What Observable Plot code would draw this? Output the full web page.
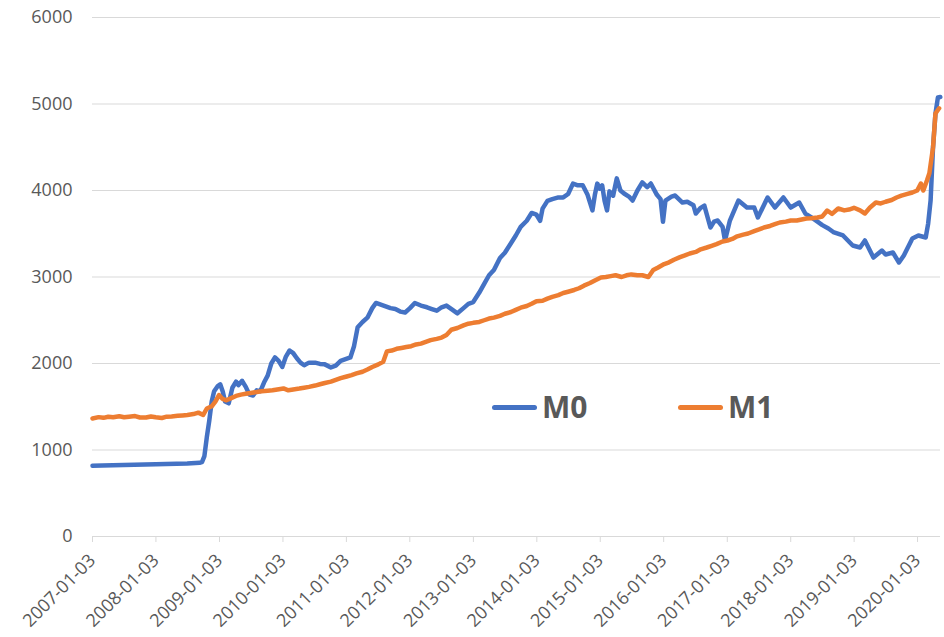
<!DOCTYPE html>
<html>
<head>
<meta charset="utf-8">
<script src="https://cdn.jsdelivr.net/npm/d3@7"></script>
<script src="https://cdn.jsdelivr.net/npm/@observablehq/plot@0.6"></script>
<style>
  html, body { margin: 0; padding: 0; background: #fff; }
  #wrap { position: relative; width: 944px; height: 637px; font-family: "Open Sans", sans-serif; }
  .legend { position: absolute; top: 386px; display: flex; align-items: center; color: #595959; font-weight: 700; font-size: 30px; line-height: 42px; }
  .legend .sw { width: 45px; height: 5px; border-radius: 3px; margin-right: 5px; }
</style>
</head>
<body>
<div id="wrap"></div>
<script>
// ---- Data ----
const seriesNames = ["M0", "M1"];
const seriesColors = ["#4472C4", "#ED7D31"];

const m0Dates = [
"2007-01-03","2007-03-01","2007-05-01","2007-07-01","2007-09-01","2007-11-01",
"2008-01-03","2008-03-01","2008-05-01","2008-07-01","2008-09-10","2008-09-24",
"2008-10-08","2008-10-22","2008-11-05","2008-11-19","2008-12-03","2008-12-24",
"2009-01-07","2009-01-21","2009-02-04","2009-02-25","2009-03-18","2009-04-08",
"2009-04-22","2009-05-13","2009-06-03","2009-06-24","2009-07-15","2009-08-05",
"2009-08-26","2009-09-16","2009-10-07","2009-10-28","2009-11-18","2009-12-09",
"2009-12-30","2010-01-20","2010-02-10","2010-03-03","2010-03-24","2010-04-14",
"2010-05-05","2010-06-02","2010-07-07","2010-08-04","2010-09-01","2010-10-06",
"2010-11-03","2010-12-01","2010-12-29","2011-01-26","2011-02-16","2011-03-09",
"2011-04-06","2011-05-04","2011-06-01","2011-06-22","2011-07-20","2011-08-17",
"2011-09-14","2011-10-12","2011-11-09","2011-12-07","2012-01-04","2012-02-01",
"2012-03-07","2012-04-11","2012-05-09","2012-06-06","2012-07-04","2012-08-01",
"2012-09-05","2012-10-03","2012-11-07","2012-12-05","2013-01-02","2013-02-06",
"2013-03-06","2013-04-03","2013-05-01","2013-06-05","2013-07-03","2013-08-07",
"2013-09-04","2013-10-02","2013-11-06","2013-12-04","2014-01-01","2014-01-22",
"2014-02-05","2014-03-05","2014-04-02","2014-05-07","2014-06-04","2014-07-02",
"2014-07-30","2014-08-27","2014-09-24","2014-10-22","2014-11-19","2014-12-03",
"2014-12-17","2014-12-31","2015-01-14","2015-01-28","2015-02-11","2015-02-25",
"2015-03-18","2015-04-08","2015-04-29","2015-05-20","2015-06-17","2015-07-08",
"2015-08-05","2015-09-02","2015-09-30","2015-10-21","2015-11-25","2015-12-16",
"2015-12-30","2016-01-13","2016-02-17","2016-03-09","2016-04-20","2016-05-18",
"2016-06-22","2016-07-06","2016-08-03","2016-08-24","2016-09-28","2016-10-19",
"2016-11-09","2016-12-07","2016-12-21","2017-01-18","2017-03-08","2017-04-26",
"2017-06-07","2017-06-28","2017-08-23","2017-10-04","2017-11-22","2018-01-03",
"2018-02-21","2018-03-28","2018-05-02","2018-06-06","2018-07-04","2018-08-08",
"2018-09-05","2018-10-31","2018-12-26","2019-02-06","2019-03-06","2019-04-24",
"2019-06-12","2019-07-03","2019-08-14","2019-09-18","2019-10-16","2019-12-04",
"2020-01-08","2020-02-19","2020-03-04","2020-03-18","2020-04-01","2020-04-15",
"2020-04-29","2020-05-13"
];
const m0Values = [
818,822,825,828,830,832,
836,838,842,843,852,860,
930,1150,1340,1560,1680,1740,
1760,1680,1560,1540,1720,1790,
1750,1800,1730,1640,1630,1690,
1680,1780,1860,2000,2070,2030,
1960,2080,2150,2120,2060,2010,
1980,2010,2010,1995,1990,1955,
1975,2030,2050,2070,2200,2420,
2480,2530,2640,2700,2680,2660,
2640,2630,2600,2590,2640,2700,
2670,2650,2630,2610,2650,2670,
2620,2580,2640,2690,2710,2820,
2920,3020,3080,3220,3280,3390,
3480,3580,3650,3740,3720,3650,
3790,3880,3900,3920,3920,3960,
4080,4060,4060,3950,3770,3950,
4080,4020,4060,3880,3770,3990,
3940,4140,4000,3965,3930,3884,
4000,4093,4040,4081,3950,3900,
3640,3884,3930,3942,3861,3870,
3830,3734,3800,3826,3572,3640,
3653,3580,3422,3653,3884,3803,
3803,3688,3919,3803,3919,3803,
3861,3734,3688,3640,3600,3561,
3520,3480,3364,3341,3422,3225,
3306,3260,3283,3168,3249,3445,
3480,3457,3618,3884,4497,4890,
5075,5080
];

const m1Dates = [
"2007-01-03","2007-02-07","2007-03-07","2007-04-04","2007-05-02","2007-06-06",
"2007-07-04","2007-08-01","2007-09-05","2007-10-03","2007-11-07","2007-12-05",
"2008-01-02","2008-02-06","2008-03-05","2008-04-02","2008-05-07","2008-06-04",
"2008-07-02","2008-08-06","2008-09-03","2008-10-01","2008-10-22","2008-11-19",
"2008-12-10","2008-12-31","2009-01-21","2009-02-11","2009-03-11","2009-04-08",
"2009-05-06","2009-06-03","2009-07-01","2009-08-05","2009-09-02","2009-10-07",
"2009-11-04","2009-12-02","2010-01-06","2010-02-03","2010-03-03","2010-04-07",
"2010-05-05","2010-06-02","2010-07-07","2010-08-04","2010-09-01","2010-10-06",
"2010-11-03","2010-12-01","2011-01-05","2011-02-02","2011-03-02","2011-04-06",
"2011-05-04","2011-06-01","2011-07-06","2011-08-03","2011-08-24","2011-09-21",
"2011-10-19","2011-11-16","2011-12-14","2012-01-11","2012-02-08","2012-03-07",
"2012-04-04","2012-05-02","2012-06-06","2012-07-04","2012-08-01","2012-08-29",
"2012-10-03","2012-11-07","2012-12-05","2013-01-02","2013-02-06","2013-03-06",
"2013-04-03","2013-05-01","2013-06-05","2013-07-03","2013-08-07","2013-09-04",
"2013-10-02","2013-11-06","2013-12-04","2014-01-01","2014-02-05","2014-03-05",
"2014-04-02","2014-05-07","2014-06-04","2014-07-02","2014-08-06","2014-09-03",
"2014-10-01","2014-11-05","2014-12-03","2015-01-07","2015-02-04","2015-03-04",
"2015-04-01","2015-05-06","2015-06-03","2015-07-01","2015-08-05","2015-09-02",
"2015-10-07","2015-11-04","2015-12-02","2016-01-06","2016-02-03","2016-03-02",
"2016-04-06","2016-05-04","2016-06-01","2016-07-06","2016-08-03","2016-09-07",
"2016-10-05","2016-11-02","2016-12-07","2017-01-04","2017-02-01","2017-03-01",
"2017-04-05","2017-05-03","2017-06-07","2017-07-05","2017-08-02","2017-09-06",
"2017-10-04","2017-11-01","2017-12-06","2018-01-03","2018-02-07","2018-03-07",
"2018-04-04","2018-05-02","2018-06-06","2018-07-04","2018-08-01","2018-08-29",
"2018-10-03","2018-11-07","2018-12-05","2019-01-02","2019-02-06","2019-03-06",
"2019-04-03","2019-05-08","2019-06-05","2019-07-03","2019-08-07","2019-09-04",
"2019-10-02","2019-11-06","2019-12-04","2020-01-01","2020-01-22","2020-02-05",
"2020-02-26","2020-03-11","2020-04-01","2020-04-15","2020-05-06"
];
const m1Values = [
1365,1380,1372,1385,1378,1390,
1378,1385,1392,1376,1375,1388,
1378,1370,1385,1388,1395,1400,
1405,1415,1432,1405,1480,1505,
1560,1635,1590,1575,1600,1625,
1640,1650,1660,1670,1680,1685,
1690,1700,1712,1690,1700,1710,
1720,1730,1745,1760,1775,1790,
1810,1830,1850,1865,1885,1905,
1930,1960,1990,2020,2140,2150,
2170,2180,2190,2200,2220,2230,
2250,2270,2285,2300,2330,2390,
2410,2440,2460,2470,2480,2500,
2520,2530,2550,2575,2595,2620,
2645,2665,2690,2720,2725,2750,
2770,2790,2815,2830,2850,2870,
2900,2930,2960,2995,3000,3010,
3020,3000,3020,3030,3020,3020,
3000,3080,3110,3150,3170,3200,
3230,3250,3272,3290,3320,3341,
3360,3380,3410,3422,3440,3470,
3490,3503,3530,3550,3572,3590,
3610,3630,3640,3653,3653,3665,
3676,3680,3688,3700,3769,3730,
3792,3770,3780,3800,3770,3734,
3800,3861,3850,3870,3890,3919,
3940,3960,3977,4000,4081,4000,
4116,4200,4497,4890,4950
];

const yTicks = [0, 1000, 2000, 3000, 4000, 5000, 6000];
const xTickLabels = ["2007-01-03","2008-01-03","2009-01-03","2010-01-03","2011-01-03","2012-01-03","2013-01-03","2014-01-03","2015-01-03","2016-01-03","2017-01-03","2018-01-03","2019-01-03","2020-01-03"];

// ---- Build tables ----
const m0 = m0Dates.map((d, i) => ({date: new Date(d), value: m0Values[i]}));
const m1 = m1Dates.map((d, i) => ({date: new Date(d), value: m1Values[i]}));
const xTicks = xTickLabels.map(d => new Date(d));

const chart = Plot.plot({
  width: 944,
  height: 637,
  marginLeft: 92,
  marginRight: 4,
  marginTop: 17,
  marginBottom: 101,
  style: {fontFamily: "'Open Sans', sans-serif", fontSize: "18px", background: "#fff", color: "#595959"},
  x: {type: "utc", domain: [new Date("2007-01-03"), new Date("2020-05-14")]},
  y: {domain: [0, 6000]},
  marks: [
    Plot.gridY(yTicks, {stroke: "#d9d9d9", strokeOpacity: 1, strokeWidth: 1}),
    Plot.axisY(yTicks, {tickSize: 0, tickPadding: 20, tickFormat: d => String(d), label: null, fill: "#595959", fontSize: 18}),
    Plot.ruleY([0], {stroke: "#d9d9d9", strokeWidth: 1}),
    Plot.axisX(xTicks, {tickSize: 6, tickPadding: 15, tickRotate: -45, tickFormat: d3.utcFormat("%Y-%m-%d"), label: null, stroke: "#d9d9d9", fill: "#595959", fontSize: 18}),
    Plot.line(m0, {x: "date", y: "value", stroke: seriesColors[0], strokeWidth: 4.5, strokeLinejoin: "round", strokeLinecap: "round"}),
    Plot.line(m1, {x: "date", y: "value", stroke: seriesColors[1], strokeWidth: 4.5, strokeLinejoin: "round", strokeLinecap: "round"})
  ]
});
const wrap = document.getElementById("wrap");
wrap.appendChild(chart);

// Legend (inside plot area)
const legendLefts = [492, 678];
seriesNames.forEach((name, i) => {
  const item = document.createElement("div");
  item.className = "legend";
  item.style.left = legendLefts[i] + "px";
  const sw = document.createElement("span");
  sw.className = "sw";
  sw.style.background = seriesColors[i];
  const tx = document.createElement("span");
  tx.textContent = name;
  item.appendChild(sw);
  item.appendChild(tx);
  wrap.appendChild(item);
});
</script>
</body>
</html>
